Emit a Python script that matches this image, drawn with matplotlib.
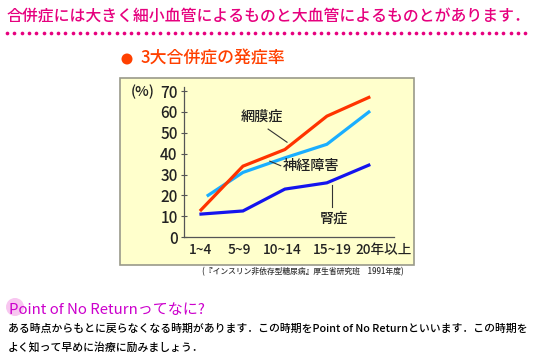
import numpy as np
import matplotlib
matplotlib.use("Agg")
import matplotlib.pyplot as plt
from matplotlib.patches import Rectangle, Circle

plt.rcParams['font.family'] = ['Noto Sans CJK JP', 'DejaVu Sans']
plt.rcParams['font.weight'] = 'medium'

# data
age_groups = ["1~4", "5~9", "10~14", "15~19", "20年以上"]
retinopathy = [13, 34, 42, 58, 67]      # 網膜症
neuropathy = [20, 31, 38, 44.5, 60]     # 神経障害
nephropathy = [11, 12.5, 23, 26, 34.5]  # 腎症
y_ticks = [0, 10, 20, 30, 40, 50, 60, 70]

# colours
MAGENTA = "#E6007E"
ORANGE = "#FF4000"
RED = "#FF3300"
SKY = "#1AAEFF"
BLUE = "#1414EE"
PURPLE = "#CC00CC"
INK = "#222222"

W, H = 535, 357
fig = plt.figure(figsize=(W / 100, H / 100), dpi=100)
fig.patch.set_facecolor("white")

# background layer in pixel coords (y down)
bg = fig.add_axes([0, 0, 1, 1])
bg.set_xlim(0, W)
bg.set_ylim(H, 0)
bg.axis("off")

bg.text(7, 16, "合併症には大きく細小血管によるものと大血管によるものとがあります．",
        color=MAGENTA, fontsize=11.4, va="center", ha="left")
dots_x = np.arange(7, 531, 7.3)
bg.scatter(dots_x, np.full_like(dots_x, 33.3), s=7, color=MAGENTA, lw=0)

bg.add_patch(Circle((127, 59), 5.5, color=ORANGE, lw=0))
bg.text(141, 59, "3大合併症の発症率", color=ORANGE, fontsize=12.2,
        va="center", ha="left")

# chart box
bg.add_patch(Rectangle((120, 78), 294, 187, facecolor="#FFFFCC",
                       edgecolor="#9A9A8A", lw=1.2))
bg.text(131, 92, "(%)", fontsize=10.5, color=INK, va="center", ha="left")

bg.text(404, 272, "(『インスリン非依存型糖尿病』厚生省研究班　1991年度)",
        fontsize=5.6, color="#333333", va="center", ha="right")

# bottom notes
bg.add_patch(Circle((15, 307), 9, color="#F8C6F0", lw=0))
bg.text(9, 310, "Point of No Returnってなに?", color=PURPLE, fontsize=10.8,
        fontweight="normal", va="center", ha="left")
bg.text(8, 329, "ある時点からもとに戻らなくなる時期があります．この時期をPoint of No Returnといいます．この時期を",
        fontsize=7.8, color="black", va="center", ha="left")
bg.text(8, 347, "よく知って早めに治療に励みましょう．",
        fontsize=7.8, color="black", va="center", ha="left")

# chart axes
ax = fig.add_axes([184 / W, (H - 237) / H, 210 / W, 150 / H])
ax.patch.set_alpha(0)
x = np.arange(len(age_groups))
x_nerve = x.astype(float)
x_nerve[0] = 0.17

ax.plot(x, nephropathy, color=BLUE, lw=2.3, solid_joinstyle="miter")
ax.plot(x_nerve, neuropathy, color=SKY, lw=2.3, solid_joinstyle="miter")
ax.plot(x, retinopathy, color=RED, lw=2.3, solid_joinstyle="miter")

ax.set_xlim(-0.405, 4.6)
ax.set_ylim(0, 72)
ax.set_yticks(y_ticks)
ax.set_yticklabels([str(v) for v in y_ticks], fontsize=11, color=INK)
ax.set_xticks([-0.02, 0.905, 1.93, 3.14, 4.36])
ax.set_xticklabels(age_groups, fontsize=9.8, color=INK)
ax.tick_params(axis="x", length=0, pad=4.5)
ax.tick_params(axis="y", direction="inout", length=4, width=0.8,
               color="#555555", pad=2.5)
for s in ["top", "right"]:
    ax.spines[s].set_visible(False)
for s in ["left", "bottom"]:
    ax.spines[s].set_color("#555555")
    ax.spines[s].set_linewidth(0.9)

# series labels with leader lines
ax.text(1.46, 58, "網膜症", fontsize=10.2, ha="center", va="center", color=INK)
ax.plot([1.6, 2.05], [51.8, 45.5], color="#333333", lw=0.8)
ax.text(1.95, 34, "神経障害", fontsize=10.2, ha="left", va="center", color=INK)
ax.plot([1.64, 1.9], [36.4, 34.2], color="#333333", lw=0.8)
ax.text(2.83, 8.6, "腎症", fontsize=10.2, ha="left", va="center", color=INK)
ax.plot([3.12, 3.12], [25, 14.4], color="#333333", lw=0.8)

fig.savefig("out.png", dpi=100)
